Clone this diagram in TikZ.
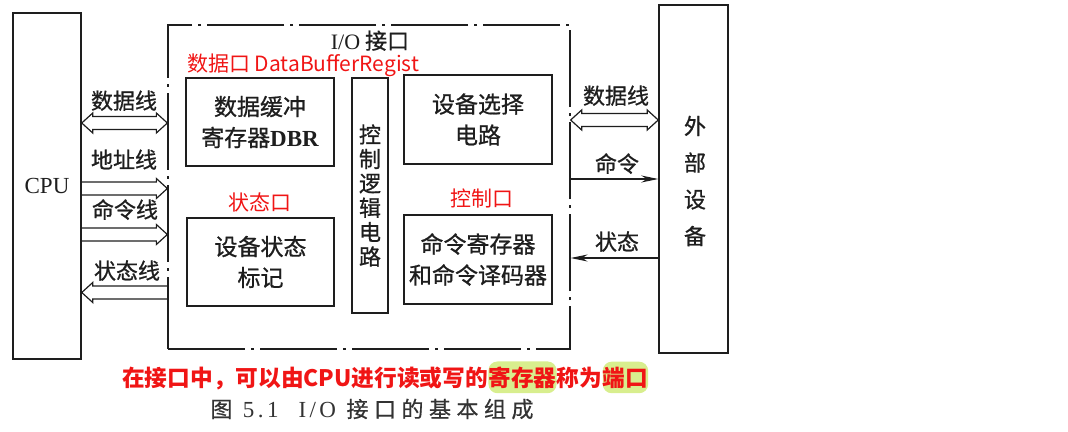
\documentclass[tikz,border=0pt]{standalone}
\usepackage{fontspec}
\setmainfont{Noto Sans CJK SC}
\newfontfamily\latserif{Liberation Serif}
\newfontfamily\inkfont{Noto Sans CJK SC}[FakeBold=0.8]
\newfontfamily\capfont{Noto Sans CJK SC}[LetterSpace=25,FakeBold=0.6]
\newfontfamily\capserif{Liberation Serif}[LetterSpace=15]
\usepackage{xcolor}
\usetikzlibrary{positioning,arrows.meta,calc}
\definecolor{ink}{HTML}{1E1E1E}
\definecolor{notered}{HTML}{F01515}
\definecolor{hlgreen}{HTML}{D8EE8E}
\definecolor{capgray}{HTML}{333333}

\begin{document}
\begin{tikzpicture}[x=1pt, y=-1pt,
    box/.style={draw=ink, line width=1.5pt, inner sep=0pt, align=center, text=ink,
      font=\inkfont\fontsize{23}{31}\selectfont},
    iobox/.style={draw=ink, line width=1.3pt, inner sep=0pt,
      dash pattern=on 77pt off 6pt on 3pt off 6pt},
    lbl/.style={text=ink, inner sep=0pt, text height=17pt, text depth=3pt,
      font=\inkfont\fontsize{22}{22}\selectfont},
    port/.style={text=notered, inner sep=0pt, text height=16pt, text depth=3pt,
      font=\fontsize{21}{21}\selectfont},
    bus/.style={draw=ink, line width=1.2pt, line join=miter},
    sig/.style={draw=ink, line width=1.1pt, -{Stealth[length=17pt, width=7pt]}},
    note/.style={text=notered, inner sep=0pt, font=\bfseries\fontsize{22.7}{22.7}\selectfont},
    hl/.style={note, fill=hlgreen, inner ysep=5pt, rounded corners=9pt}
  ]
    \useasboundingbox (0,0) rectangle (1068,431);

    % the two ends
    \node[box, minimum width=68, minimum height=346, font=\latserif\fontsize{23}{23}\selectfont]
      (cpu) at (47,186) {CPU};
    \node[box, minimum width=69, minimum height=348] (dev) at (693.5,179) {};
    \node[text=ink, align=center, font=\inkfont\fontsize{22}{36.7}\selectfont] (devtxt)
      at (695,181) {外\\部\\设\\备};

    % interface
    \node[iobox, minimum width=402, minimum height=324] (io) at (369,187) {};
    \node[lbl] (iotitle) at (370,42) {{\latserif I/O} 接口};
    \node[box, minimum width=148, minimum height=88] (dbr) at (260,122)
      {数据缓冲\\寄存器{\latserif\bfseries DBR}};
    \node[box, minimum width=147, minimum height=88] (stat) at (260.5,262)
      {设备状态\\标记};
    \node[box, minimum width=36, minimum height=235,
      font=\inkfont\fontsize{22}{24.4}\selectfont] (ctrl) at (370,195.5)
      {控\\制\\逻\\辑\\电\\路};
    \node[box, minimum width=148, minimum height=89] (sel) at (478,119.5)
      {设备选择\\电路};
    \node[box, minimum width=148, minimum height=89] (cmd) at (478,259.5)
      {命令寄存器\\和命令译码器};

    % port names
    \node[port, anchor=west] (dport) at (187,65) {数据口 DataBufferRegist};
    \node[port] (sport) at (260,204) {状态口};
    \node[port] (cport) at (482,200) {控制口};

    % CPU side buses
    \draw[bus] (cpu.east |- 0,123) -- ++(11,-10) -- ++(0,3.5)
      -- ($(io.west |- 0,116.5)+(-11,0)$) -- ++(0,-3.5) -- (io.west |- 0,123)
      -- ++(-11,10) -- ++(0,-3.5) -- ($(cpu.east |- 0,129.5)+(11,0)$)
      -- ++(0,3.5) -- cycle;
    \draw[bus] (cpu.east |- 0,182) -- ($(io.west |- 0,182)+(-11,0)$) -- ++(0,-3.5)
      -- (io.west |- 0,188.5) -- ++(-11,10) -- ++(0,-3.5) -- (cpu.east |- 0,195);
    \draw[bus] (cpu.east |- 0,228) -- ($(io.west |- 0,228)+(-11,0)$) -- ++(0,-3.5)
      -- (io.west |- 0,234.5) -- ++(-11,10) -- ++(0,-3.5) -- (cpu.east |- 0,241);
    \draw[bus] (io.west |- 0,286) -- ($(cpu.east |- 0,286)+(11,0)$) -- ++(0,-3.5)
      -- (cpu.east |- 0,292.5) -- ++(11,10) -- ++(0,-3.5) -- (io.west |- 0,299);
    \node[lbl] (l1) at (124,102) {数据线};
    \node[lbl] (l2) at (124,161) {地址线};
    \node[lbl] (l3) at (125,211) {命令线};
    \node[lbl] (l4) at (127,272) {状态线};

    % device side
    \draw[bus] (io.east |- 0,120) -- ++(11,-10) -- ++(0,3.5)
      -- ($(dev.west |- 0,113.5)+(-11,0)$) -- ++(0,-3.5) -- (dev.west |- 0,120)
      -- ++(-11,10) -- ++(0,-3.5) -- ($(io.east |- 0,126.5)+(11,0)$)
      -- ++(0,3.5) -- cycle;
    \draw[sig] (io.east |- 0,179) -- (dev.west |- 0,179);
    \draw[sig] (dev.west |- 0,258) -- (io.east |- 0,258);
    \node[lbl] (r1) at (616,97) {数据线};
    \node[lbl] (r2) at (617,165) {命令};
    \node[lbl] (r3) at (617,243) {状态};

    % remark and caption
    \node[note, anchor=base west] (n1) at (122,386) {在接口中，可以由CPU进行读或写的};
    \node[hl, anchor=base west] (n2) at (n1.base east) {寄存器};
    \node[note, anchor=base west] (n3) at (n2.base east) {称为};
    \node[hl, anchor=base west] (n4) at (n3.base east) {端口};
    \node[text=capgray, font=\capfont\fontsize{22}{22}\selectfont] (cap) at (372,409)
      {图 {\capserif\fontsize{23}{23}\selectfont 5.1}\hspace{20pt}{\capserif\fontsize{23}{23}\selectfont I/O} 接口的基本组成};
  \end{tikzpicture}
\end{document}
